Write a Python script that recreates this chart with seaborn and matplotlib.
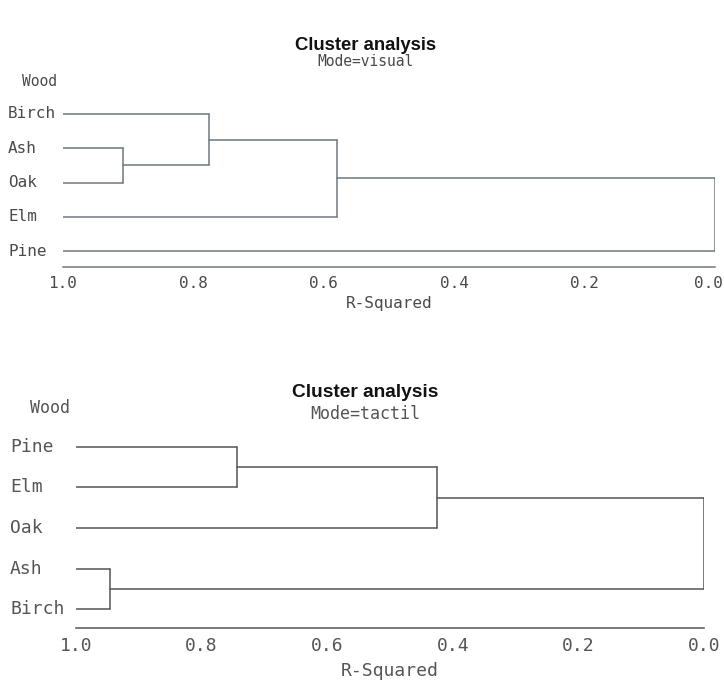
import matplotlib
matplotlib.use("Agg")
import matplotlib.pyplot as plt
import matplotlib.transforms as mtransforms
import numpy as np
import pandas as pd
import seaborn as sns

# Leaf order (top to bottom) and agglomeration steps: (left, right, R-squared)
visual_leaves = ["Birch", "Ash", "Oak", "Elm", "Pine"]
visual_merges = [("Ash", "Oak", 0.908),
                 ("Birch", "Ash+Oak", 0.776),
                 ("Birch+Ash+Oak", "Elm", 0.580),
                 ("Birch+Ash+Oak+Elm", "Pine", 0.0)]

tactil_leaves = ["Pine", "Elm", "Oak", "Ash", "Birch"]
tactil_merges = [("Pine", "Elm", 0.744),
                 ("Pine+Elm", "Oak", 0.425),
                 ("Ash", "Birch", 0.946),
                 ("Pine+Elm+Oak", "Ash+Birch", 0.0)]

r2_ticks = [1.0, 0.8, 0.6, 0.4, 0.2, 0.0]


def dendrogram_segments(leaves, merges):
    """Build line segments of an R-squared dendrogram as a long table."""
    pos = {name: float(i) for i, name in enumerate(leaves)}
    height = {name: 1.0 for name in leaves}
    rows = []
    seg = 0
    for a, b, h in merges:
        for child in (a, b):
            rows.append((seg, height[child], pos[child]))
            rows.append((seg, h, pos[child]))
            seg += 1
        rows.append((seg, h, pos[a]))
        rows.append((seg, h, pos[b]))
        seg += 1
        new = a + "+" + b
        pos[new] = (pos[a] + pos[b]) / 2.0
        height[new] = h
    return pd.DataFrame(rows, columns=["seg", "r2", "pos"])


sns.set_style("white")
mono = "DejaVu Sans Mono"
plt.rcParams["font.family"] = [mono, "DejaVu Sans"]

fig = plt.figure(figsize=(7.24, 6.82), dpi=100)
fig.patch.set_facecolor("white")


def draw_panel(rect, leaves, merges, mode, line_color, text_color, fsize,
               label_x, wood_xy, title_y, title_size, sub_y, ylim,
               tick_pad, label_pad, last_tick_right):
    ax = fig.add_axes(rect)
    df = dendrogram_segments(leaves, merges)
    sns.lineplot(data=df, x="r2", y="pos", units="seg", estimator=None,
                 sort=False, color=line_color, linewidth=1.1, ax=ax,
                 legend=False)
    ax.set_xlim(1.0, 0.0)
    ax.set_ylim(*ylim)
    for side in ("top", "right", "left"):
        ax.spines[side].set_visible(False)
    ax.spines["bottom"].set_color(line_color)
    ax.spines["bottom"].set_linewidth(1.1)
    ax.set_xticks(r2_ticks)
    ax.set_xticklabels([f"{t:.1f}" for t in r2_ticks], fontsize=fsize,
                       color=text_color, family=mono)
    ax.tick_params(axis="x", direction="out", length=4, width=1.0,
                   color=line_color, pad=tick_pad)
    if last_tick_right:
        last = ax.get_xticklabels()[-1]
        last.set_horizontalalignment("right")
        last.set_transform(last.get_transform() +
                           mtransforms.ScaledTranslation(6 / 72, 0,
                                                         fig.dpi_scale_trans))
    ax.set_yticks([])
    ax.set_ylabel("")
    ax.set_xlabel("R-Squared", fontsize=fsize, color=text_color,
                  family=mono, labelpad=label_pad)
    trans = mtransforms.blended_transform_factory(fig.transFigure, ax.transData)
    for i, name in enumerate(leaves):
        ax.text(label_x, i, name, transform=trans, ha="left", va="center",
                fontsize=fsize, color=text_color, family=mono)
    fig.text(wood_xy[0], wood_xy[1], "Wood", ha="center", va="center",
             fontsize=fsize - 1, color=text_color, family=mono)
    fig.text(0.505, title_y, "Cluster analysis", ha="center", va="center",
             fontsize=title_size, fontweight="bold", color="#111111",
             family="Liberation Sans")
    fig.text(0.505, sub_y, f"Mode={mode}", ha="center", va="center",
             fontsize=fsize - 1, color=text_color, family=mono)
    return ax


H = 682.0
W = 724.0

# Upper panel: visual mode
top_bottom_px, top_top_px = 267.0, 100.0
draw_panel([63 / W, 1 - top_bottom_px / H, (715 - 63) / W,
            (top_bottom_px - top_top_px) / H],
           visual_leaves, visual_merges, "visual",
           "#6e787e", "#4a4a4a", 11.5, 8 / W,
           (40 / W, 1 - 82 / H), 1 - 45 / H, 13.3, 1 - 61 / H,
           (4 + 16 / 34.25, -14 / 34.25),
           2.5, 3.5, True)

# Lower panel: tactil mode
bot_bottom_px, bot_top_px = 628.0, 432.0
draw_panel([76 / W, 1 - bot_bottom_px / H, (704 - 76) / W,
            (bot_bottom_px - bot_top_px) / H],
           tactil_leaves, tactil_merges, "tactil",
           "#555555", "#555555", 13, 10 / W,
           (50 / W, 1 - 408 / H), 1 - 392 / H, 13.8, 1 - 414 / H,
           (4 + 19 / 40.5, -15 / 40.5),
           2.5, 5, False)

fig.savefig("out.png", dpi=100, facecolor="white")
